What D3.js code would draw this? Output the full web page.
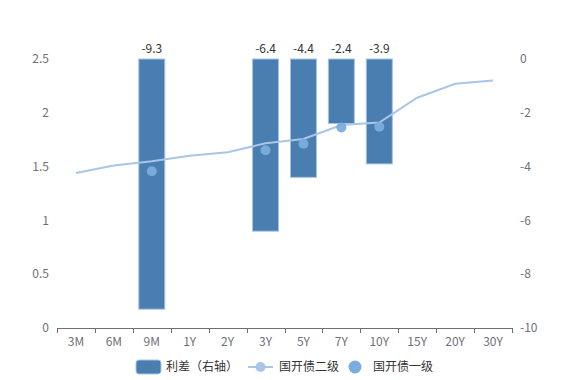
<!DOCTYPE html>
<html><head><meta charset="utf-8">
<script src="https://cdn.jsdelivr.net/npm/d3@7/dist/d3.min.js"></script>
<style>body{margin:0;background:#fff}svg{display:block}text{font-family:"Noto Sans CJK SC","Noto Sans",sans-serif}</style>
</head><body><svg id="c" width="569" height="380"></svg>
<script>
const categories = ["3M","6M","9M","1Y","2Y","3Y","5Y","7Y","10Y","15Y","20Y","30Y"];
const secondary = [1.44,1.51,1.55,1.60,1.633,1.716,1.756,1.887,1.91,2.14,2.27,2.30];
const primaryCats = ["9M","3Y","5Y","7Y","10Y"];
const primary = [1.457,1.652,1.712,1.863,1.871];
const spreadCats = ["9M","3Y","5Y","7Y","10Y"];
const spread = [-9.3,-6.4,-4.4,-2.4,-3.9];
const leftTicks = [0,0.5,1,1.5,2,2.5];
const rightTicks = [0,-2,-4,-6,-8,-10];
const legendLabels = ["利差（右轴）","国开债二级","国开债一级"];

const svg = d3.select("#c");
const L=57,R=512,T=59,B=328;
const x = d3.scaleBand().domain(categories).range([L,R]);
const yL = d3.scaleLinear().domain([0,2.5]).range([B,T]);
const yR = d3.scaleLinear().domain([-10,0]).range([B,T]);
const grey="#6e7079";

// left axis labels
svg.append("g").selectAll("text").data(leftTicks).join("text")
  .attr("x",L-8).attr("y",d=>yL(d)).attr("dy","0.35em").attr("text-anchor","end")
  .attr("font-size",12).attr("fill",grey).text(d=>d);
// right axis labels
svg.append("g").selectAll("text").data(rightTicks).join("text")
  .attr("x",R+8).attr("y",d=>yR(d)).attr("dy","0.35em").attr("text-anchor","start")
  .attr("font-size",12).attr("fill",grey).text(d=>d);

// x axis
const xa = svg.append("g").attr("transform",`translate(0,${B})`)
  .call(d3.axisBottom(x).tickSize(0).tickPadding(9));
xa.select(".domain").attr("stroke",grey).attr("d",`M${L+0.5},0.5H${R+0.5}`);
xa.selectAll("text").attr("font-size",12).attr("fill",grey).style("font-family",'"Noto Sans CJK SC",sans-serif');
const bounds = categories.map(c=>x(c)).concat([R]);
xa.selectAll(".tk").data(bounds).join("line").attr("class","tk")
  .attr("x1",d=>Math.round(d)+0.5).attr("x2",d=>Math.round(d)+0.5).attr("y1",0).attr("y2",5).attr("stroke",grey);

// bars
const bw=26;
svg.append("g").selectAll("rect").data(spreadCats.map((c,i)=>({c,v:spread[i]}))).join("rect")
  .attr("x",d=>x(d.c)+x.bandwidth()/2-bw/2).attr("y",yR(0))
  .attr("width",bw).attr("height",d=>yR(d.v)-yR(0))
  .attr("fill","#4a7eb0").attr("stroke","#a6c3e2").attr("stroke-width",1);
svg.append("g").selectAll("text").data(spreadCats.map((c,i)=>({c,v:spread[i]}))).join("text")
  .attr("x",d=>x(d.c)+x.bandwidth()/2).attr("y",yR(0)-6).attr("text-anchor","middle")
  .attr("font-size",12).attr("fill","#333").text(d=>d.v);

// line
const line = d3.line().x((d,i)=>x(categories[i])+x.bandwidth()/2).y(d=>yL(d));
svg.append("path").datum(secondary).attr("d",line).attr("fill","none")
  .attr("stroke","#a9c5e7").attr("stroke-width",2);

// scatter
svg.append("g").selectAll("circle").data(primaryCats.map((c,i)=>({c,v:primary[i]}))).join("circle")
  .attr("cx",d=>x(d.c)+x.bandwidth()/2).attr("cy",d=>yL(d.v)).attr("r",5)
  .attr("fill","#7aaddc").attr("opacity",0.95);

// legend
const lg = svg.append("g");
const ly=367;
lg.append("rect").attr("x",136).attr("y",ly-7).attr("width",25).attr("height",14).attr("rx",3)
  .attr("fill","#4a7eb0").attr("stroke","#a6c3e2");
lg.append("text").attr("x",166).attr("y",ly).attr("dy","0.35em").attr("font-size",12).attr("fill","#333").text(legendLabels[0]);
lg.append("line").attr("x1",248).attr("x2",273).attr("y1",ly).attr("y2",ly).attr("stroke","#a9c5e7").attr("stroke-width",2);
lg.append("circle").attr("cx",260.5).attr("cy",ly).attr("r",5).attr("fill","#a9c5e7");
lg.append("text").attr("x",279).attr("y",ly).attr("dy","0.35em").attr("font-size",12).attr("fill","#333").text(legendLabels[1]);
lg.append("circle").attr("cx",355).attr("cy",ly).attr("r",6.5).attr("fill","#7aaddc");
lg.append("text").attr("x",373).attr("y",ly).attr("dy","0.35em").attr("font-size",12).attr("fill","#333").text(legendLabels[2]);
</script></body></html>
